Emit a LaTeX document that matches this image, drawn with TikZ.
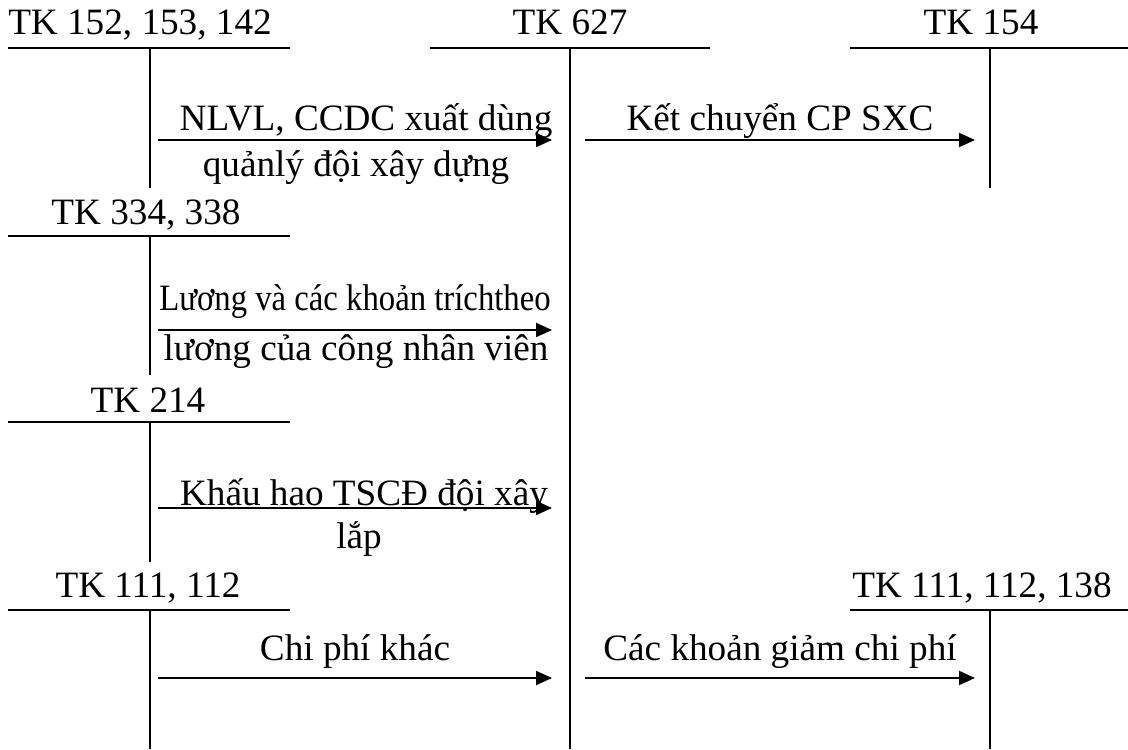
\documentclass[tikz,border=0pt]{standalone}
\usepackage{fontspec}
\setmainfont{Liberation Serif}
\usetikzlibrary{arrows.meta, positioning}
\tikzstyle{account} = [inner sep=0pt, anchor=base]
\tikzstyle{flowtext} = [inner sep=0pt, anchor=base]
\tikzstyle{tline} = [line width=1pt]
\tikzstyle{arrow} = [line width=1pt, -{Triangle[length=8pt,width=7pt]}]

\begin{document}
\begin{tikzpicture}[x=0.5pt, y=-0.5pt, every node/.style={font=\fontsize{18.6}{22}\selectfont}]
    \useasboundingbox (0,0) rectangle (1128,749);

    % account names
    \node (tk152) [account] at (140,35) {TK 152, 153, 142};
    \node (tk627) [account] at (570,35) {TK 627};
    \node (tk154) [account] at (981,35) {TK 154};
    \node (tk334) [account] at (146,224) {TK 334, 338};
    \node (tk214) [account] at (148,412) {TK 214};
    \node (tk111) [account] at (148,597) {TK 111, 112};
    \node (tk138) [account] at (982,597) {TK 111, 112, 138};

    % T accounts
    \draw [tline] (8,48) -- (290,48);  \draw [tline] (150,48) -- (150,188);
    \draw [tline] (430,48) -- (710,48); \draw [tline] (570,48) -- (570,749);
    \draw [tline] (850,48) -- (1128,48); \draw [tline] (990,48) -- (990,188);
    \draw [tline] (8,236) -- (290,236); \draw [tline] (150,236) -- (150,375);
    \draw [tline] (8,422) -- (290,422); \draw [tline] (150,422) -- (150,562);
    \draw [tline] (8,610) -- (290,610); \draw [tline] (150,610) -- (150,749);
    \draw [tline] (850,610) -- (1128,610); \draw [tline] (990,610) -- (990,749);

    % arrow ends
    \coordinate (s1) at (158,140); \coordinate (e1) at (552,140);
    \coordinate (s2) at (585,140); \coordinate (e2) at (975,140);
    \coordinate (s3) at (158,330); \coordinate (e3) at (552,330);
    \coordinate (s4) at (158,508); \coordinate (e4) at (552,508);
    \coordinate (s5) at (158,678); \coordinate (e5) at (552,678);
    \coordinate (s6) at (585,678); \coordinate (e6) at (975,678);

    \draw [arrow] (s1) -- (e1);
    \draw [arrow] (s2) -- (e2);
    \draw [arrow] (s3) -- (e3);
    \draw [arrow] (s4) -- (e4);
    \draw [arrow] (s5) -- (e5);
    \draw [arrow] (s6) -- (e6);

    % labels
    \node (nlvl) [flowtext] at (366,130) {NLVL, CCDC xuất dùng};
    \node (qly) [flowtext] at (356,176) {quảnlý đội xây dựng};
    \node (kc) [flowtext] at (780,130) {Kết chuyển CP SXC};
    \node (luong) [flowtext] at (355,310) {\scalebox{0.88}[1]{Lương và các khoản tríchtheo}};
    \node (cnv) [flowtext] at (356,360) {lương của công nhân viên};
    \node (khau) [flowtext] at (364,505) {Khấu hao TSCĐ đội xây};
    \node (lap) [flowtext] at (359,548) {lắp};
    \node (cpk) [flowtext] at (355,660) {Chi phí khác};
    \node (giam) [flowtext] at (780,660) {Các khoản giảm chi phí};
\end{tikzpicture}
\end{document}
